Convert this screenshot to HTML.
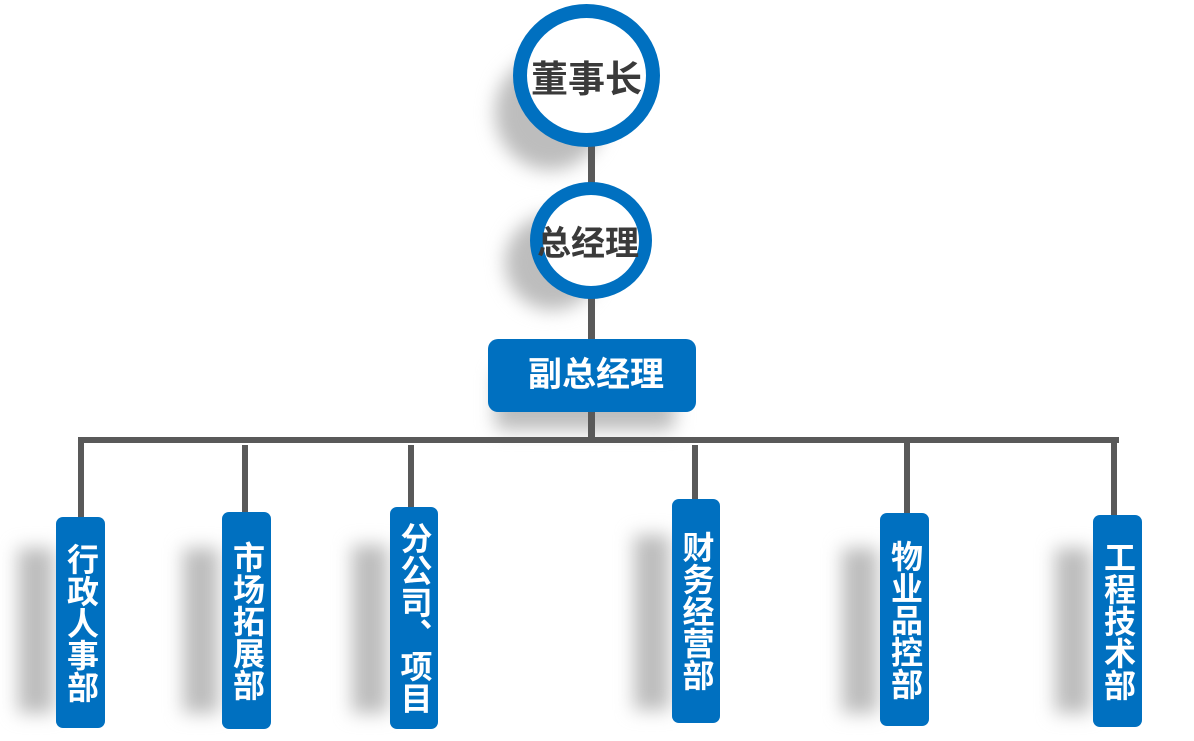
<!DOCTYPE html>
<html><head><meta charset="utf-8"><style>
body{margin:0;width:1194px;height:741px;background:#fff;position:relative;overflow:hidden;font-family:"Liberation Sans","Noto Sans CJK SC",sans-serif;font-weight:bold}
.a{position:absolute}
.ln{position:absolute;background:#595959}
.sh{position:absolute;background:#bdbdbd;filter:blur(9px)}
.box{position:absolute;background:#0070c0;border-radius:7px;color:#fff;font-size:32px;line-height:35px;text-align:center;writing-mode:vertical-rl;text-orientation:upright;display:flex;align-items:center;justify-content:center;box-sizing:border-box}
.c{position:absolute;border-radius:50%;border:solid #0070c0;background:#fff;box-sizing:border-box;display:flex;align-items:center;justify-content:center;color:#3a3a3a}
</style></head><body>
<div class="sh" style="left:495px;top:55px;width:110px;height:115px;border-radius:50%"></div>
<div class="sh" style="left:505px;top:215px;width:95px;height:95px;border-radius:50%"></div>
<div class="sh" style="left:495px;top:370px;width:180px;height:60px;border-radius:8px"></div>
<div class="ln" style="left:588px;top:140px;width:7px;height:302px"></div>
<div class="ln" style="left:78px;top:437px;width:1041px;height:6px"></div>
<div class="ln" style="left:78px;top:437px;width:6px;height:82px"></div>
<div class="ln" style="left:242px;top:445px;width:6px;height:69px"></div>
<div class="ln" style="left:408px;top:445px;width:6px;height:64px"></div>
<div class="ln" style="left:692px;top:445px;width:6px;height:56px"></div>
<div class="ln" style="left:904px;top:440px;width:6px;height:75px"></div>
<div class="ln" style="left:1111px;top:440px;width:6px;height:77px"></div>
<div class="c" style="left:513px;top:4px;width:147px;height:143px;border-width:14px;font-size:37px">董事长</div>
<div class="c" style="left:530px;top:182px;width:122px;height:117px;border-width:13px;font-size:34px"><span style="margin-left:-6px">总经理</span></div>
<div class="a" style="left:488px;top:339px;width:208px;height:73px;background:#0070c0;border-radius:10px;color:#fff;font-size:34px;line-height:73px;text-indent:40px">副总经理</div>
<div class="sh" style="left:18px;top:548px;width:36px;height:165px"></div>
<div class="sh" style="left:183px;top:548px;width:36px;height:165px"></div>
<div class="sh" style="left:352px;top:545px;width:36px;height:168px"></div>
<div class="sh" style="left:634px;top:535px;width:36px;height:175px"></div>
<div class="sh" style="left:842px;top:548px;width:36px;height:165px"></div>
<div class="sh" style="left:1055px;top:548px;width:36px;height:165px"></div>
<div class="box" style="left:56px;top:517px;width:49px;height:211px">行政人事部</div>
<div class="box" style="left:222px;top:512px;width:49px;height:217px">市场拓展部</div>
<div class="box" style="left:390px;top:507px;width:48px;height:222px">分公司、项目</div>
<div class="box" style="left:672px;top:499px;width:48px;height:224px">财务经营部</div>
<div class="box" style="left:880px;top:513px;width:49px;height:213px">物业品控部</div>
<div class="box" style="left:1093px;top:515px;width:49px;height:212px">工程技术部</div>
</body></html>
